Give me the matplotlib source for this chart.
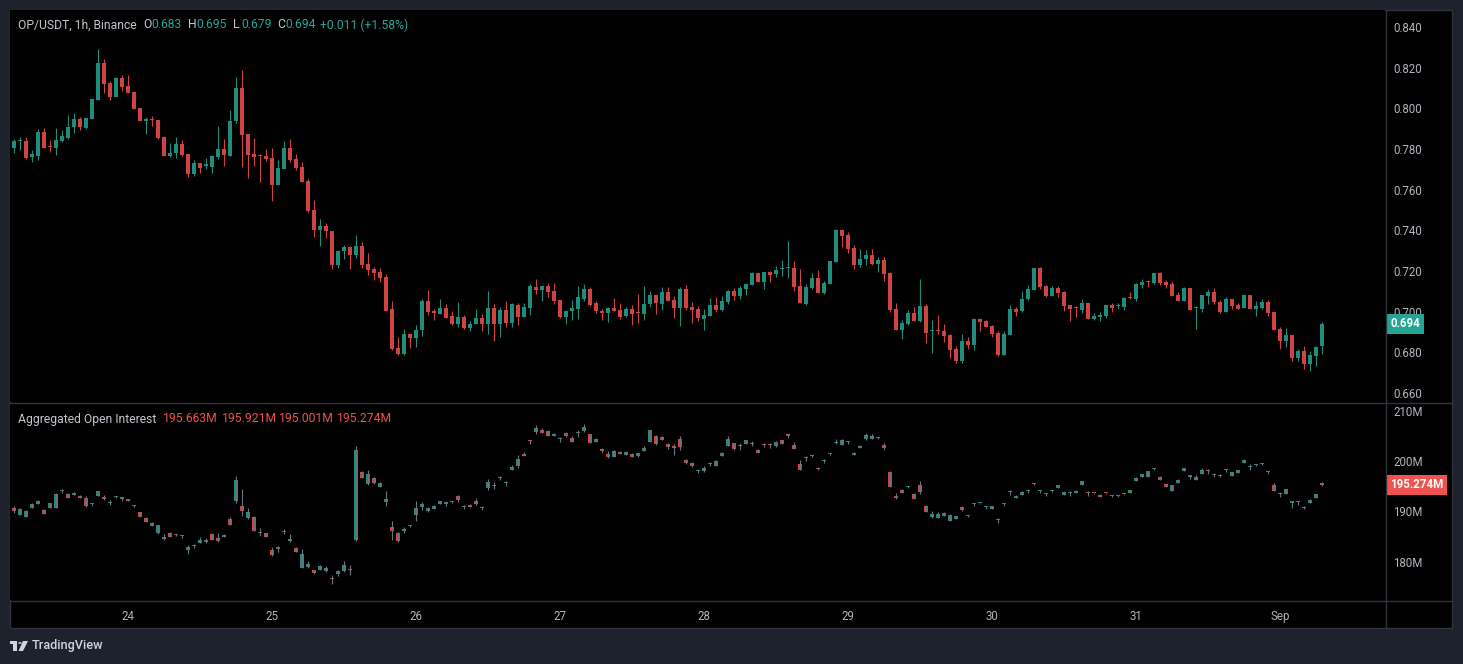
import numpy as np
import pandas as pd
import matplotlib
matplotlib.use('Agg')
from matplotlib import pyplot as plt
from matplotlib import transforms
from matplotlib.patches import Rectangle, Circle, Polygon

plt.rcParams['font.family'] = ['Roboto', 'DejaVu Sans']

# ---- OP/USDT 1h candles (Aug 23 05:00 -> Sep 1 07:00) ----
price_open = [
    .7806, .7838, .7839, .7762, .7767, .7883, .7810, .7806, .7839, .7856,
    .7908, .7947, .7903, .7947, .8042, .8223, .8124, .8057, .8149, .8110,
    .8080, .8001, .7939, .7944, .7942, .7859, .7767, .7780, .7824, .7775,
    .7678, .7731, .7716, .7713, .7762, .7800, .7767, .7937, .8100, .7874,
    .7776, .7767, .7766, .7756, .7623, .7702, .7805, .7751, .7712, .7643,
    .7500, .7402, .7421, .7397, .7229, .7298, .7318, .7279, .7323, .7234,
    .7210, .7195, .7170, .7013, .6821, .6792, .6890, .6870, .6910, .7052,
    .7003, .6988, .7018, .6978, .6939, .6973, .6921, .6937, .6968, .6937,
    .7018, .6937, .7008, .6946, .7032, .6975, .7019, .7121, .7106, .7126,
    .7101, .7057, .6973, .7003, .7013, .7062, .7111, .7042, .7003, .6993,
    .7018, .7008, .6978, .7013, .6994, .6988, .7037, .7082, .7037, .7096,
    .7057, .7018, .7111, .7023, .7013, .6964, .6978, .7032, .7008, .7047,
    .7101, .7077, .7111, .7131, .7190, .7146, .7195, .7185, .7209, .7214,
    .7215, .7126, .7037, .7116, .7165, .7092, .7136, .7244, .7402, .7377,
    .7313, .7229, .7259, .7279, .7234, .7254, .7190, .7013, .6909, .6939,
    .6993, .6954, .7028, .6903, .6905, .6905, .6885, .6816, .6757, .6855,
    .6836, .6964, .6954, .6929, .6895, .6786, .6885, .7013, .7003, .7062,
    .7106, .7214, .7126, .7077, .7116, .7096, .7033, .7019, .7008, .7042,
    .6964, .6973, .6978, .7033, .7027, .7023, .7067, .7062, .7131, .7146,
    .7141, .7190, .7146, .7136, .7082, .7052, .7116, .7017, .7013, .7077,
    .7096, .7047, .6998, .7062, .7033, .7018, .7082, .7013, .7018, .7047,
    .6998, .6914, .6855, .6885, .6772, .6806, .6742, .6781, .683,
]
price_high = [
    .7849, .7857, .7857, .7795, .7898, .7903, .7844, .7903, .7893, .7967,
    .7977, .7957, .7952, .8046, .8292, .8243, .8136, .8154, .8164, .8164,
    .8085, .8001, .7957, .7962, .7942, .7864, .7829, .7859, .7844, .7775,
    .7746, .7731, .7755, .7770, .7913, .7849, .7992, .8154, .8189, .7874,
    .7854, .7776, .7800, .7805, .7746, .7840, .7849, .7776, .7736, .7653,
    .7549, .7456, .7436, .7397, .7303, .7328, .7323, .7377, .7343, .7288,
    .7220, .7215, .7185, .7052, .6875, .6914, .6890, .6934, .7062, .7106,
    .7013, .7062, .7038, .7003, .7047, .6983, .6954, .7013, .6988, .7101,
    .7037, .7023, .7052, .7042, .7042, .7042, .7136, .7160, .7126, .7141,
    .7141, .7057, .7008, .7057, .7126, .7136, .7121, .7052, .7013, .7023,
    .7067, .7042, .7023, .7032, .7087, .7126, .7101, .7082, .7121, .7121,
    .7077, .7121, .7131, .7047, .7028, .7013, .7067, .7072, .7077, .7106,
    .7116, .7126, .7141, .7195, .7190, .7195, .7200, .7224, .7254, .7347,
    .7249, .7210, .7136, .7190, .7205, .7151, .7249, .7407, .7407, .7392,
    .7328, .7308, .7303, .7308, .7269, .7269, .7195, .7042, .6958, .7008,
    .7023, .7160, .7037, .6958, .6983, .6939, .6890, .6831, .6890, .6875,
    .6969, .6969, .6958, .6934, .6905, .6905, .7032, .7023, .7101, .7131,
    .7214, .7220, .7131, .7126, .7126, .7101, .7033, .7028, .7062, .7042,
    .6993, .6998, .7033, .7042, .7042, .7072, .7096, .7141, .7160, .7155,
    .7190, .7195, .7155, .7146, .7096, .7121, .7116, .7028, .7082, .7111,
    .7116, .7057, .7072, .7062, .7042, .7087, .7082, .7052, .7062, .7057,
    .6998, .6924, .6919, .6885, .6816, .6831, .6806, .6831, .695,
]
price_low = [
    .7782, .7795, .7752, .7737, .7746, .7803, .7785, .7772, .7833, .7847,
    .7880, .7895, .7898, .7946, .8041, .8074, .8041, .8056, .8085, .8074,
    .7995, .7937, .7875, .7915, .7849, .7764, .7762, .7757, .7767, .7664,
    .7669, .7683, .7703, .7683, .7752, .7718, .7765, .7926, .7713, .7657,
    .7716, .7638, .7741, .7544, .7623, .7702, .7736, .7697, .7638, .7490,
    .7367, .7323, .7362, .7210, .7215, .7259, .7210, .7264, .7215, .7180,
    .7156, .7146, .7003, .6811, .6787, .6787, .6821, .6826, .6880, .6983,
    .6959, .6988, .6969, .6934, .6923, .6916, .6906, .6937, .6905, .6891,
    .6857, .6877, .6926, .6926, .6936, .6975, .6985, .7087, .7054, .7072,
    .7037, .6968, .6939, .6959, .6964, .7052, .7028, .6993, .6959, .6949,
    .7003, .6963, .6973, .6934, .6944, .6959, .7023, .6988, .7008, .7052,
    .6969, .6929, .7008, .6944, .6954, .6910, .6978, .6998, .7003, .7037,
    .7057, .7062, .7082, .7131, .7146, .7111, .7146, .7170, .7175, .7165,
    .7101, .7042, .7032, .7111, .7092, .7087, .7136, .7244, .7318, .7288,
    .7210, .7220, .7229, .7229, .7195, .7150, .6999, .6909, .6865, .6934,
    .6954, .6949, .6846, .6796, .6890, .6850, .6772, .6747, .6747, .6816,
    .6811, .6905, .6924, .6875, .6781, .6786, .6885, .6978, .6998, .7057,
    .7106, .7111, .7072, .7077, .7072, .7003, .6954, .6973, .6993, .6964,
    .6959, .6954, .6968, .6998, .7013, .7008, .7062, .7052, .7116, .7121,
    .7136, .7131, .7116, .7077, .7052, .7052, .7008, .6914, .6998, .7037,
    .7037, .6993, .6998, .7013, .7013, .7018, .7013, .6978, .7013, .6978,
    .6909, .6816, .6826, .6757, .6757, .6718, .6708, .6732, .679,
]
price_close = [
    .7839, .7840, .7757, .7775, .7883, .7806, .7808, .7844, .7864, .7906,
    .7947, .7908, .7952, .8046, .8223, .8121, .8057, .8149, .8106, .8077,
    .7997, .7939, .7947, .7942, .7854, .7767, .7780, .7824, .7770, .7678,
    .7731, .7708, .7724, .7765, .7800, .7770, .7937, .8100, .7869, .7771,
    .7761, .7764, .7751, .7623, .7707, .7805, .7746, .7707, .7638, .7495,
    .7402, .7421, .7397, .7229, .7298, .7318, .7279, .7323, .7229, .7205,
    .7190, .7165, .7003, .6816, .6792, .6890, .6870, .6910, .7052, .6998,
    .6993, .7018, .6969, .6939, .6973, .6921, .6939, .6968, .6937, .7018,
    .6937, .7008, .6946, .7037, .6975, .7023, .7126, .7106, .7126, .7096,
    .7052, .6973, .7003, .7018, .7072, .7111, .7032, .7003, .6993, .7018,
    .7003, .6973, .7013, .6988, .6993, .7037, .7082, .7042, .7096, .7052,
    .7018, .7111, .7018, .7008, .6969, .6983, .7032, .7008, .7052, .7101,
    .7077, .7116, .7136, .7190, .7146, .7195, .7180, .7205, .7210, .7215,
    .7121, .7042, .7121, .7165, .7092, .7141, .7249, .7402, .7372, .7308,
    .7229, .7259, .7279, .7234, .7254, .7185, .7008, .6909, .6944, .6993,
    .6954, .7028, .6895, .6905, .6903, .6880, .6811, .6757, .6855, .6836,
    .6964, .6949, .6924, .6890, .6786, .6890, .7013, .6998, .7062, .7111,
    .7214, .7121, .7077, .7116, .7092, .7028, .7013, .7018, .7042, .6964,
    .6978, .6983, .7033, .7018, .7028, .7067, .7065, .7136, .7146, .7145,
    .7190, .7141, .7131, .7077, .7052, .7116, .7008, .7018, .7082, .7096,
    .7047, .6998, .7062, .7028, .7013, .7082, .7013, .7028, .7047, .6993,
    .6909, .6855, .6885, .6772, .6806, .6742, .6786, .6826, .694,
]

# ---- Aggregated open interest, millions ----
oi_open = [
    190.65, 189.26, 188.93, 190.65, 191.52, 190.26, 190.65, 190.65, 194.00, 193.44,
    193.31, 193.11, 192.64, 191.36, 193.11, 192.91, 191.58, 192.82, 192.50, 192.44,
    191.00, 189.86, 188.67, 187.14, 185.68, 184.49, 185.68, 185.24, 185.03, 182.37,
    183.08, 183.76, 183.89, 185.49, 184.62, 184.96, 188.47, 192.05, 191.05, 188.67,
    188.87, 185.60, 185.68, 182.30, 182.60, 185.82, 184.16, 182.70, 178.79, 179.00,
    178.33, 178.40, 178.20, 176.48, 177.60, 178.20, 178.27, 184.29, 197.81, 195.43,
    196.62, 194.83, 191.85, 186.88, 185.68, 186.08, 187.06, 189.26, 190.86, 190.12,
    190.46, 191.45, 191.55, 191.88, 193.04, 190.90, 191.32, 192.05, 190.64, 194.63,
    195.01, 196.57, 195.60, 198.28, 199.00, 201.46, 203.92, 205.76, 206.16, 205.96,
    204.97, 204.30, 205.57, 204.57, 205.49, 205.96, 205.37, 203.78, 202.38, 201.39,
    200.79, 201.79, 201.19, 201.39, 200.99, 201.99, 203.78, 204.97, 204.77, 203.38,
    202.98, 204.37, 200.20, 199.60, 197.94, 198.01, 199.32, 199.00, 200.99, 202.98,
    203.58, 202.97, 203.38, 203.33, 202.19, 203.12, 203.19, 202.98, 204.17, 205.05,
    203.18, 199.40, 200.54, 200.94, 198.36, 199.99, 201.33, 203.56, 203.18, 203.77,
    201.19, 202.58, 204.37, 204.37, 204.58, 203.18, 197.81, 193.04, 194.23, 194.82,
    193.44, 195.23, 191.05, 188.87, 188.67, 189.07, 188.07, 188.47, 190.85, 189.06,
    191.38, 191.58, 190.78, 190.46, 188.26, 191.37, 193.83, 192.64, 193.31, 194.03,
    195.44, 193.96, 193.37, 194.03, 194.63, 193.31, 193.57, 193.64, 195.23, 193.65,
    193.58, 193.24, 193.58, 193.04, 193.03, 193.38, 193.64, 196.02, 196.82, 196.82,
    198.40, 196.82, 195.43, 194.03, 195.63, 198.01, 196.88, 196.22, 197.41, 197.95,
    197.21, 196.95, 198.14, 197.02, 197.61, 199.60, 198.74, 199.20, 199.40, 197.75,
    195.23, 193.38, 193.44, 191.71, 191.84, 190.59, 191.65, 192.64, 195.663,
]
oi_high = [
    191.05, 190.65, 190.26, 191.65, 192.25, 190.46, 191.65, 193.64, 194.43, 193.64,
    193.84, 193.31, 193.04, 191.65, 194.03, 193.17, 192.25, 193.04, 192.71, 192.44,
    191.25, 189.86, 188.87, 187.87, 187.21, 185.49, 185.88, 185.49, 185.29, 183.37,
    183.50, 184.89, 184.69, 185.68, 185.68, 185.49, 188.93, 197.02, 194.43, 190.65,
    189.07, 186.68, 185.68, 182.90, 183.10, 186.48, 185.49, 182.90, 182.50, 180.12,
    178.33, 179.32, 179.12, 177.33, 178.33, 180.12, 179.32, 202.98, 198.01, 198.21,
    196.82, 195.83, 194.03, 188.07, 185.88, 186.88, 187.27, 192.05, 191.85, 190.85,
    191.25, 192.05, 192.05, 192.05, 193.24, 191.25, 191.52, 192.64, 191.05, 196.42,
    195.83, 197.02, 196.02, 199.20, 201.19, 201.79, 204.24, 207.16, 206.56, 206.16,
    205.57, 204.77, 205.76, 204.97, 206.16, 207.35, 205.37, 204.57, 202.58, 201.99,
    202.19, 201.99, 201.99, 201.59, 201.59, 202.98, 206.16, 205.17, 204.97, 203.58,
    203.38, 204.97, 200.40, 199.80, 198.41, 199.00, 199.73, 200.20, 201.79, 204.97,
    203.58, 203.58, 204.17, 203.97, 202.38, 203.51, 203.58, 203.97, 204.17, 205.37,
    203.78, 200.20, 200.93, 201.13, 198.74, 200.40, 201.52, 204.37, 204.37, 203.97,
    201.79, 203.18, 205.57, 205.37, 204.77, 203.58, 198.01, 193.64, 194.43, 195.03,
    193.64, 196.02, 191.25, 190.06, 189.86, 189.86, 189.46, 189.07, 191.05, 189.26,
    191.65, 191.65, 191.12, 191.05, 188.73, 191.72, 194.30, 193.31, 194.10, 194.43,
    195.69, 194.30, 193.71, 194.30, 195.23, 194.03, 194.03, 194.30, 196.02, 194.10,
    193.64, 193.44, 193.64, 193.24, 193.24, 193.44, 194.23, 196.82, 197.41, 198.01,
    198.61, 197.02, 195.43, 195.23, 196.42, 198.61, 197.28, 197.22, 198.61, 198.41,
    197.61, 197.41, 198.41, 197.81, 198.21, 200.40, 199.40, 199.40, 199.67, 198.08,
    195.63, 193.84, 194.43, 191.85, 192.12, 191.05, 192.44, 193.44, 195.921,
]
oi_low = [
    189.59, 189.26, 188.93, 190.65, 191.52, 189.53, 190.65, 190.65, 193.64, 192.71,
    193.31, 192.71, 190.92, 191.12, 193.11, 192.25, 191.32, 192.64, 192.12, 192.05,
    190.79, 188.93, 187.94, 187.14, 185.49, 184.29, 184.96, 185.02, 184.76, 181.51,
    182.70, 183.63, 183.63, 184.36, 183.96, 184.96, 187.34, 191.58, 189.07, 188.47,
    186.08, 185.09, 184.96, 181.11, 181.91, 185.55, 183.89, 181.97, 178.79, 178.79,
    177.53, 178.40, 178.00, 175.55, 177.20, 178.00, 177.33, 184.09, 196.62, 195.23,
    195.43, 194.83, 191.05, 184.29, 183.89, 185.68, 186.88, 188.07, 190.26, 189.92,
    190.46, 191.45, 191.05, 191.65, 191.85, 190.46, 190.85, 191.25, 190.26, 194.23,
    194.43, 196.22, 195.03, 198.28, 198.61, 201.06, 203.45, 205.37, 205.57, 204.97,
    204.97, 203.84, 204.77, 203.78, 204.77, 205.76, 203.58, 203.78, 201.59, 200.59,
    200.79, 201.39, 201.19, 200.79, 200.79, 201.99, 203.78, 203.18, 204.17, 202.38,
    201.19, 202.19, 199.40, 198.81, 197.61, 197.81, 199.00, 199.00, 200.99, 202.98,
    202.19, 202.19, 203.38, 202.98, 201.59, 202.78, 202.58, 202.78, 203.38, 204.57,
    202.38, 198.21, 200.00, 200.73, 198.14, 199.60, 201.13, 203.38, 203.18, 203.38,
    201.19, 202.58, 204.17, 204.37, 204.37, 202.19, 194.83, 192.44, 193.64, 194.63,
    192.44, 193.44, 189.86, 188.67, 188.67, 189.07, 188.07, 188.47, 190.06, 188.87,
    191.05, 191.52, 190.46, 190.46, 187.67, 191.05, 193.31, 192.64, 193.31, 193.64,
    195.29, 193.64, 193.04, 193.84, 194.63, 193.31, 193.04, 193.64, 195.23, 193.04,
    193.51, 192.84, 193.51, 192.84, 192.84, 193.31, 193.64, 196.02, 196.82, 196.82,
    198.21, 196.22, 194.83, 194.03, 195.63, 198.01, 196.42, 196.22, 197.41, 197.41,
    196.82, 196.88, 197.81, 197.02, 197.61, 199.60, 198.21, 199.00, 199.14, 197.48,
    194.03, 192.91, 193.44, 190.65, 191.32, 190.52, 191.65, 192.64, 195.001,
]
oi_close = [
    190.12, 190.46, 190.06, 191.45, 192.05, 189.53, 191.65, 193.44, 194.03, 192.71,
    193.64, 192.71, 191.12, 191.38, 194.03, 192.44, 191.92, 192.84, 192.51, 192.05,
    190.98, 188.93, 187.94, 187.67, 187.21, 184.96, 184.96, 185.22, 185.01, 182.90,
    183.10, 184.29, 184.29, 184.36, 184.16, 185.29, 187.34, 196.22, 190.06, 189.86,
    186.08, 185.62, 184.96, 181.31, 182.57, 185.80, 184.49, 181.97, 181.51, 179.52,
    177.80, 179.12, 178.79, 176.47, 178.13, 179.32, 178.25, 202.19, 196.62, 197.41,
    195.63, 195.63, 192.44, 186.08, 184.09, 186.48, 187.08, 190.65, 191.45, 190.65,
    191.05, 192.05, 191.58, 191.85, 192.25, 190.92, 190.92, 191.45, 190.65, 195.83,
    195.03, 196.55, 195.62, 198.81, 200.40, 201.06, 203.91, 206.56, 205.57, 204.97,
    205.37, 204.31, 204.97, 203.78, 205.50, 206.76, 203.58, 204.37, 201.99, 200.79,
    201.99, 201.39, 201.79, 200.79, 201.59, 202.58, 206.16, 203.38, 204.17, 202.78,
    202.65, 202.78, 199.60, 199.00, 197.95, 198.61, 199.33, 200.00, 201.59, 204.37,
    202.38, 202.98, 204.17, 203.31, 201.59, 203.11, 203.18, 203.78, 203.38, 205.03,
    202.38, 198.21, 200.53, 200.93, 198.34, 200.00, 201.32, 203.58, 204.17, 203.78,
    201.59, 202.98, 205.17, 204.97, 204.57, 202.58, 194.83, 192.64, 193.64, 194.83,
    192.44, 193.84, 189.86, 189.46, 189.46, 189.66, 189.26, 189.07, 190.26, 189.07,
    191.39, 191.59, 190.79, 191.05, 188.27, 191.38, 193.84, 193.11, 193.84, 194.04,
    195.43, 193.97, 193.37, 194.04, 195.23, 193.84, 193.57, 194.10, 196.02, 193.64,
    193.57, 192.84, 193.57, 193.04, 193.04, 193.37, 194.23, 196.62, 197.41, 198.01,
    198.41, 196.22, 194.83, 195.23, 196.22, 198.61, 196.89, 196.82, 198.21, 197.94,
    197.22, 196.95, 198.14, 197.81, 198.21, 200.20, 198.74, 199.20, 199.40, 197.74,
    194.03, 193.37, 194.43, 191.72, 191.85, 190.59, 192.25, 193.44, 195.274,
]

price_ticks = [0.66, 0.68, 0.70, 0.72, 0.74, 0.76, 0.78, 0.80, 0.82, 0.84]
oi_ticks = [180, 190, 200, 210]

times = pd.date_range('2025-08-23 05:00', periods=len(price_close), freq='h')

UP = '#1f8c7c'
DOWN = '#cd4442'
BG = '#1e222d'
LINE = '#2f333e'
TXT = '#b2b5be'
W, H = 1463, 664


def fx(x):
    return x / W


def fy(y):
    return 1 - y / H


def draw_candles(ax, o, h, l, c, min_body, wick=None):
    o, h, l, c = map(np.asarray, (o, h, l, c))
    x = np.arange(len(o))
    colors = np.where(c >= o, UP, DOWN)
    ax.vlines(x, l, h, colors=colors if wick is None else wick, linewidth=0.8)
    ax.bar(x, np.maximum(np.abs(c - o), min_body), bottom=np.minimum(o, c),
           width=0.74, color=colors, linewidth=0)


fig = plt.figure(figsize=(W / 100, H / 100), dpi=100, facecolor=BG)

# chart frame (behind the axes)
fig.patches.append(Rectangle((fx(10), fy(628)), fx(1442), 618 / H, transform=fig.transFigure,
                             facecolor='black', edgecolor=LINE, linewidth=1.0, zorder=-10))

ax_p = fig.add_axes([fx(10), fy(402), fx(1375), 392 / H])
ax_oi = fig.add_axes([fx(10), fy(600), fx(1375), 197 / H])

for ax in (ax_p, ax_oi):
    ax.set_facecolor('black')
    for s in ax.spines.values():
        s.set_visible(False)
    ax.yaxis.tick_right()
    ax.tick_params(axis='y', length=0, pad=6, labelsize=8.3, labelcolor=TXT)
    ax.set_xlim(-0.667, 228.5)

draw_candles(ax_p, price_open, price_high, price_low, price_close, 0.0005)
ax_p.set_ylim(0.65555, 0.84836)
ax_p.set_yticks(price_ticks)
ax_p.set_yticklabels([f'{v:.3f}' for v in price_ticks])
ax_p.set_xticks([])

draw_candles(ax_oi, oi_open, oi_high, oi_low, oi_close, 0.25, wick='#6f737d')
ax_oi.set_ylim(172.37, 211.53)
ax_oi.set_yticks(oi_ticks)
ax_oi.set_yticklabels([f'{v}M' for v in oi_ticks])

day_idx = [i for i, t in enumerate(times) if t.hour == 0]
day_lbl = [times[i].strftime('%b') if times[i].day == 1 else str(times[i].day) for i in day_idx]
ax_oi.set_xticks(day_idx)
ax_oi.set_xticklabels(day_lbl)
ax_oi.tick_params(axis='x', length=0, pad=7, labelsize=8.3, labelcolor=TXT)

# separators
fig.add_artist(plt.Line2D([fx(10), fx(1452)], [fy(402.5), fy(402.5)], color=LINE, lw=1.0))
fig.add_artist(plt.Line2D([fx(10), fx(1452)], [fy(600.5), fy(600.5)], color=LINE, lw=1.0))
fig.add_artist(plt.Line2D([fx(1385.5), fx(1385.5)], [fy(10), fy(628)], color=LINE, lw=1.0))

# last value tags
tr_p = transforms.blended_transform_factory(ax_p.transAxes, ax_p.transData)
ax_p.text(1.004, price_close[-1], f'{price_close[-1]:.3f}', transform=tr_p, ha='left', va='center',
          color='white', fontsize=8.3, fontweight='bold', clip_on=False,
          bbox=dict(boxstyle='square,pad=0.32', facecolor='#22a592', edgecolor='none'))
tr_oi = transforms.blended_transform_factory(ax_oi.transAxes, ax_oi.transData)
ax_oi.text(1.004, oi_close[-1], f'{oi_close[-1]:.3f}M', transform=tr_oi, ha='left', va='center',
           color='white', fontsize=8.3, fontweight='bold', clip_on=False,
           bbox=dict(boxstyle='square,pad=0.32', facecolor='#ef5350', edgecolor='none'))

# legends
TEAL = '#26a69a'
RED = '#ef5350'
LEG = '#c3c6ce'
fs = 8.7
fig.text(fx(18), fy(25), 'OP/USDT, 1h, Binance', color=LEG, fontsize=fs, va='center')
ohlc = [('O', price_open[-1]), ('H', price_high[-1]), ('L', price_low[-1]), ('C', price_close[-1])]
xs = [143, 188, 233, 277]
for (k, v), x0 in zip(ohlc, xs):
    fig.text(fx(x0), fy(25), k, color=LEG, fontsize=fs, va='center')
    fig.text(fx(x0 + 8), fy(25), f'{v:.3f}', color=TEAL, fontsize=fs, va='center')
chg = price_close[-1] - price_open[-1]
fig.text(fx(320), fy(25), f'+{chg:.3f} (+1.58%)', color=TEAL, fontsize=fs, va='center')

fig.text(fx(18), fy(419), 'Aggregated Open Interest', color=LEG, fontsize=fs, va='center')
for v, x0 in zip([oi_open[-1], oi_high[-1], oi_low[-1], oi_close[-1]], [163, 222, 279, 337]):
    fig.text(fx(x0), fy(419), f'{v:.3f}M', color=RED, fontsize=fs, va='center')

# TradingView mark
fig.patches.append(Rectangle((fx(10), fy(644)), fx(7), 3.5 / H, transform=fig.transFigure,
                             facecolor='#d1d4dc', edgecolor='none'))
fig.patches.append(Rectangle((fx(13.5), fy(651)), fx(3.5), 10 / H, transform=fig.transFigure,
                             facecolor='#d1d4dc', edgecolor='none'))
fig.patches.append(Polygon([(fx(23), fy(641)), (fx(28), fy(641)), (fx(23), fy(651)), (fx(18.5), fy(651))],
                           transform=fig.transFigure, facecolor='#d1d4dc', edgecolor='none'))
fig.patches.append(Circle((fx(20), fy(643)), fx(1.8), transform=fig.transFigure,
                          facecolor='#d1d4dc', edgecolor='none'))
fig.text(fx(32), fy(646), 'TradingView', color='#d1d4dc', fontsize=9.2, va='center', fontweight='medium')

fig.savefig('out.png', dpi=100, facecolor=BG)
